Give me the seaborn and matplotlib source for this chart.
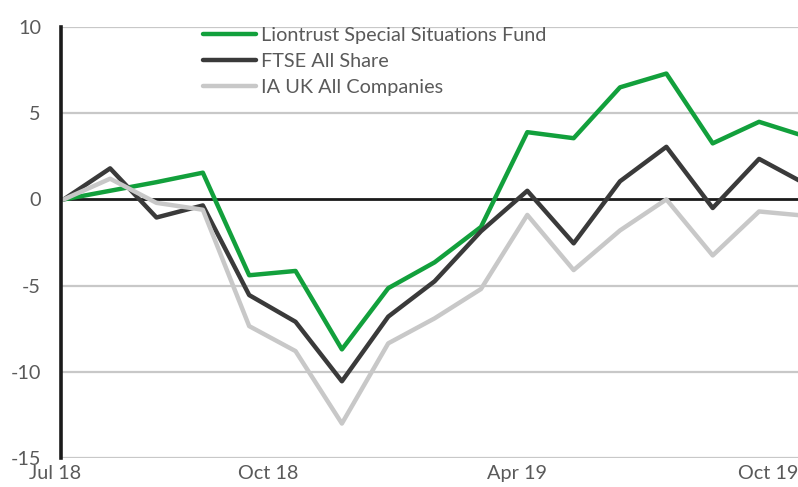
import pandas as pd
import numpy as np
import matplotlib
matplotlib.use("Agg")
import matplotlib.pyplot as plt
from matplotlib.transforms import ScaledTranslation
import seaborn as sns

# monthly cumulative performance (%)
period = list(range(17))
liontrust = [0, 0.5, 1.0, 1.55, -4.4, -4.15, -8.7, -5.15, -3.65, -1.6, 3.9, 3.55, 6.5, 7.3, 3.25, 4.5, 3.65]
ftse = [0, 1.8, -1.05, -0.35, -5.55, -7.1, -10.55, -6.8, -4.75, -1.85, 0.5, -2.55, 1.05, 3.05, -0.5, 2.35, 0.9]
ia_uk = [0, 1.2, -0.2, -0.6, -7.35, -8.8, -13.0, -8.35, -6.9, -5.2, -0.9, -4.1, -1.8, 0.0, -3.25, -0.7, -0.95]

series_names = ["Liontrust Special Situations Fund", "FTSE All Share", "IA UK All Companies"]
colours = ["#12a03c", "#3a3a3a", "#c8c8c8"]

tick_pos = [0, 4.4, 9.78, 15.2]
tick_labels = ["Jul 18", "Oct 18", "Apr 19", "Oct 19"]

df = pd.DataFrame({
    "period": period * 3,
    "value": liontrust + ftse + ia_uk,
    "series": [series_names[0]] * 17 + [series_names[1]] * 17 + [series_names[2]] * 17,
})

sns.set_style("white")
plt.rcParams["font.family"] = ["Lato", "DejaVu Sans"]
text_col = "#5a5a5a"
fs = 14.3

fig = plt.figure(figsize=(7.98, 4.87), dpi=100)
ax = fig.add_axes([61 / 798, 29 / 487, 737 / 798, 431 / 487])

for y in [10, 5, -5, -10, -15]:
    ax.axhline(y, color="#c8c8c8", lw=1.6, zorder=1)
ax.axhline(0, color="#1a1a1a", lw=2.0, zorder=2)

sns.lineplot(data=df, x="period", y="value", hue="series", hue_order=series_names,
             palette=colours, linewidth=3.2, ax=ax, legend=False, zorder=3)

ax.set_xlim(-0.06, 15.84)
ax.set_ylim(-15, 10)
ax.set_yticks([10, 5, 0, -5, -10, -15])
ax.set_yticklabels(["10", "5", "0", "-5", "-10", "-15"])
ax.set_xticks(tick_pos)
ax.set_xticklabels(tick_labels)
ax.tick_params(axis="both", length=0, labelsize=fs, labelcolor=text_col)
ax.tick_params(axis="y", pad=14.5)
ax.tick_params(axis="x", pad=5)
ax.get_xticklabels()[0].set_transform(
    ax.get_xticklabels()[0].get_transform() + ScaledTranslation(-0.09, 0, fig.dpi_scale_trans))
ax.set_xlabel("")
ax.set_ylabel("")

for s in ["top", "right", "bottom"]:
    ax.spines[s].set_visible(False)
ax.spines["left"].set_color("#1a1a1a")
ax.spines["left"].set_linewidth(2.6)
ax.spines["left"].set_zorder(4)

handles = [plt.Line2D([], [], color=c, lw=3.2) for c in colours]
leg = ax.legend(handles, series_names, loc="upper left", bbox_to_anchor=(203 / 798, 1 - 27 / 487),
                bbox_transform=fig.transFigure, frameon=False, fontsize=fs,
                handlelength=2.65, handletextpad=0.25, labelspacing=0.46,
                borderpad=0, borderaxespad=0)
for t in leg.get_texts():
    t.set_color(text_col)

fig.savefig("out.png", dpi=100)
